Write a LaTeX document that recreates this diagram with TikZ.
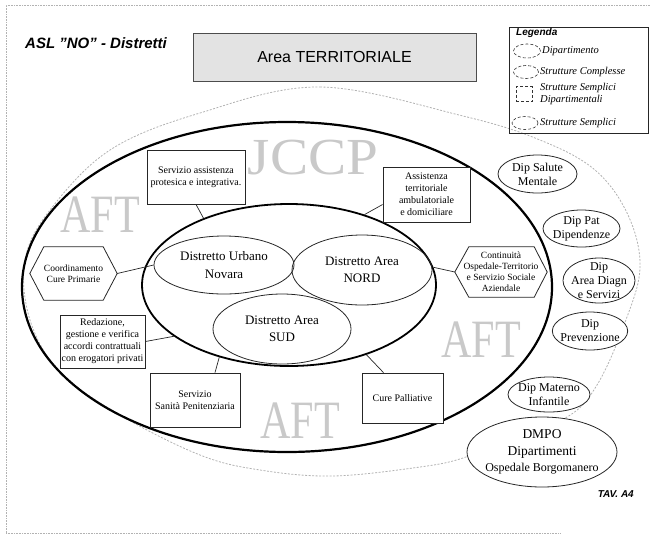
\documentclass[tikz,border=0pt]{standalone}
\usepackage{fontspec}
\usepackage{graphicx}
\setmainfont{Liberation Serif}
\setsansfont{Liberation Sans}
\usetikzlibrary{shapes.geometric}

\begin{document}
\begin{tikzpicture}[x=1pt,y=-1pt,
  frame/.style={draw=gray!60,densely dotted,line width=0.6pt},
  thinline/.style={draw=black!85,line width=0.8pt},
  ssd/.style={thinline,fill=white,rectangle,align=center,inner sep=1pt,
    font=\fontsize{10}{12}\selectfont},
  hexbox/.style={rectangle,align=center,inner sep=0pt,
    font=\fontsize{9.5}{11}\selectfont},
  dip/.style={thinline,fill=white,ellipse,inner xsep=-3pt,inner ysep=-3pt,
    align=center,font=\fontsize{12}{14}\selectfont},
  distr/.style={thinline,ellipse,inner sep=0pt,align=center,
    font=\fontsize{13}{17.5}\selectfont},
  link/.style={draw=black!85,line width=0.7pt},
  bigtxt/.style={text=gray!42,font=\fontsize{54}{54}\selectfont,inner sep=0pt},
  legshape/.style={draw=black!80,densely dashed,line width=0.6pt,inner sep=0pt},
  legitem/.style={anchor=west,inner sep=0pt,align=left,
    font=\itshape\fontsize{10.5}{12.5}\selectfont},
  outerline/.style={draw=gray!60,dash pattern=on 2pt off 1.5pt,line width=0.8pt},
]
\useasboundingbox (0,0) rectangle (653,547);

% sheet edges
\draw[frame] (6,533) -- (6,5) -- (650,5);
\draw[frame] (6,533) -- (560,533);

% heading
\node[anchor=west,inner sep=0pt,font=\sffamily\bfseries\itshape\fontsize{15}{18}\selectfont]
  (title) at (25,43) {ASL {\char34}NO{\char34} - Distretti};
\node[rectangle,draw=black!70,fill=gray!22,line width=0.8pt,minimum width=283pt,
  minimum height=48pt,inner sep=0pt,font=\sffamily\fontsize{16}{19}\selectfont]
  (area) at (334.5,57) {Area TERRITORIALE};

% large grey lettering
\node[bigtxt] (aftW) at (100,215) {\scalebox{0.78}[1]{AFT}};
\node[bigtxt] (aftE) at (481,340) {\scalebox{0.78}[1]{AFT}};
\node[bigtxt] (aftS) at (300,421) {\scalebox{0.78}[1]{AFT}};
\node[bigtxt,font=\fontsize{52}{52}\selectfont] (jccp) at (313,158) {\scalebox{1.1}[1]{JCCP}};

% dashed outline of the territorial area
\draw[outerline] plot[smooth cycle,tension=0.6] coordinates {
  (200,113) (320,87) (463,116) (540,140) (595,170) (628,215) (640,268)
  (624,325) (597,385) (567,417) (505,440) (463,458) (420,467) (333,476)
  (260,470) (200,455) (120,415) (60,372) (30,320) (25,260) (50,210) (110,150)};

% main rings
\node[ellipse,draw=black,line width=2.2pt,minimum width=530pt,minimum height=330pt,
  inner sep=0pt] (asl) at (287,287) {};
\node[ellipse,draw=black,line width=1.8pt,minimum width=294pt,minimum height=162pt,
  inner sep=0pt] (distretti) at (289,285) {};

% districts
\node[distr,minimum width=140pt,minimum height=58pt] (urbano) at (224,265) {Distretto Urbano\\Novara};
\node[distr,minimum width=140pt,minimum height=70pt] (nord) at (362,270) {Distretto Area\\NORD};
\node[distr,minimum width=138pt,minimum height=70pt] (sud) at (282,329) {Distretto Area\\SUD};

% simple departmental structures
\node[ssd,minimum width=98pt,minimum height=54pt] (protesica) at (196,177) {Servizio assistenza\\protesica e integrativa.};
\node[ssd,minimum width=87pt,minimum height=55pt] (assist) at (426.5,194.5) {Assistenza\\territoriale\\ambulatoriale\\e domiciliare};
\node[ssd,minimum width=85pt,minimum height=53pt] (accordi) at (102.5,341.5) {Redazione,\\gestione e verifica\\accordi contrattuali\\con erogatori privati};
\node[ssd,minimum width=90pt,minimum height=54pt] (penit) at (195,400) {Servizio\\Sanità Penitenziaria};
\node[ssd,minimum width=81pt,minimum height=50pt] (palliat) at (402.5,398) {Cure Palliative};

% simple structures (hexagons)
\node[hexbox,minimum width=87pt,minimum height=53pt] (coord) at (73.5,273.5) {Coordinamento\\Cure Primarie};
\draw[thinline] (coord.west) -- ([xshift=14pt]coord.north west) -- ([xshift=-14pt]coord.north east)
  -- (coord.east) -- ([xshift=-14pt]coord.south east) -- ([xshift=14pt]coord.south west) -- cycle;
\node[hexbox,minimum width=92pt,minimum height=50pt] (contin) at (501,272) {Continuità\\Ospedale-Territorio\\e Servizio Sociale\\Aziendale};
\draw[thinline] (contin.west) -- ([xshift=14pt]contin.north west) -- ([xshift=-13pt]contin.north east)
  -- (contin.east) -- ([xshift=-13pt]contin.south east) -- ([xshift=14pt]contin.south west) -- cycle;

% departments
\node[dip,minimum width=79pt,minimum height=38pt] (salute) at (537.5,174) {Dip Salute\\Mentale};
\node[dip,minimum width=77pt,minimum height=37pt] (pat) at (581.5,228.5) {Dip Pat\\Dipendenze};
\node[dip,minimum width=72pt,minimum height=45pt] (diagn) at (599,280.5) {Dip\\Area Diagn\\e Servizi};
\node[dip,minimum width=74pt,minimum height=38pt] (prev) at (590,331) {Dip\\Prevenzione};
\node[dip,minimum width=82pt,minimum height=35pt] (materno) at (549,394.5) {Dip Materno\\Infantile};
\node[dip,minimum width=150pt,minimum height=70pt,inner xsep=-14pt,font=\fontsize{13.5}{16.5}\selectfont]
  (dmpo) at (542,452) {DMPO\\Dipartimenti\\{\fontsize{12}{14}\selectfont Ospedale Borgomanero}};

% connectors
\draw[link] (protesica.south) -- (distretti.142);
\draw[link] ([yshift=-10pt]assist.west) -- (distretti.43);
\draw[link] (coord.east) -- (urbano.west);
\draw[link] (accordi.east) -- (distretti.204);
\draw[link] ([xshift=20pt]penit.north) -- (distretti.226);
\draw[link] ([xshift=-19pt]palliat.north) -- (distretti.318);
\draw[link] (contin.west) -- (distretti.7);

% legend
\node[rectangle,draw=black!85,line width=0.7pt,minimum width=139pt,minimum height=106pt,
  inner sep=0pt] (legend) at (578.5,80) {};
\node[anchor=west,inner sep=0pt,font=\sffamily\bfseries\itshape\fontsize{10}{12}\selectfont]
  (legtitle) at (516,33) {Legenda};
\node[legshape,ellipse,minimum width=27pt,minimum height=14pt] (lgdip) at (527,51) {};
\node[legitem] (lgdiptxt) at (542,51) {Dipartimento};
\node[legshape,ellipse,minimum width=25pt,minimum height=13pt] (lgsc) at (526,72) {};
\node[legitem] (lgsctxt) at (540,72) {Strutture Complesse};
\node[legshape,rectangle,minimum width=16pt,minimum height=15pt] (lgssd) at (524,94) {};
\node[legitem] (lgssdtxt) at (540,94) {Strutture Semplici\\Dipartimentali};
\node[legshape,ellipse,minimum width=26pt,minimum height=13pt] (lgss) at (525,123) {};
\node[legitem] (lgsstxt) at (540,123) {Strutture Semplici};

% sheet reference
\node[anchor=east,inner sep=0pt,font=\sffamily\bfseries\itshape\fontsize{10}{12}\selectfont]
  (tav) at (634,494) {TAV. A4};
\end{tikzpicture}
\end{document}
